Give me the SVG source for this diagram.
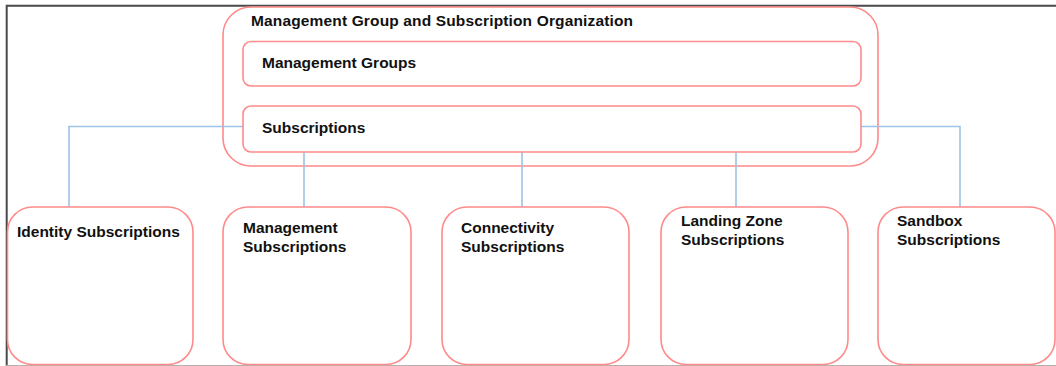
<svg xmlns="http://www.w3.org/2000/svg" width="1056" height="366" viewBox="0 0 1056 366">
<style>
.box{fill:#fff;stroke:#ff8a8a;stroke-width:1.6}
.lbl{font-family:"Liberation Sans",Arial,sans-serif;font-weight:bold;fill:#111}
.t15{font-size:15.5px}
.t16{font-size:15.5px}
.conn{fill:none;stroke:#9dc3e6;stroke-width:1.6}
</style>
<rect width="1056" height="366" fill="#fff"/>
<path d="M1058 5.7 H6.7 V366" fill="none" stroke="#4a4a4a" stroke-width="2"/>
<path d="M6 365.5 H1056" fill="none" stroke="#b8b0ac" stroke-width="1.2"/>
<g id="container">
<rect class="box" x="223" y="7" width="655" height="159" rx="28"/>
<text class="lbl t15" x="251" y="25.5" textLength="382" lengthAdjust="spacing">Management Group and Subscription Organization</text>
</g>
<g id="connectors">
<path class="conn" d="M243 126.5 H69 V207"/>
<path class="conn" d="M861 126.5 H960 V207"/>
<path class="conn" d="M304 152 V207"/>
<path class="conn" d="M522 152 V207"/>
<path class="conn" d="M736 152 V207"/>
</g>
<g id="mgmt-groups">
<rect class="box" x="243" y="41.5" width="618" height="44.5" rx="8"/>
<text class="lbl t15" x="262" y="68">Management Groups</text>
</g>
<g id="subscriptions">
<rect class="box" x="243" y="106" width="618" height="46" rx="8"/>
<text class="lbl t15" x="262" y="132.5">Subscriptions</text>
</g>
<g id="identity">
<rect class="box" x="7.5" y="207" width="185.5" height="157.5" rx="25"/>
<text class="lbl t16" x="17" y="236.5">Identity Subscriptions</text>
</g>
<g id="management">
<rect class="box" x="223" y="207" width="188" height="157.5" rx="25"/>
<text class="lbl t16" x="243" y="233">Management</text>
<text class="lbl t16" x="243" y="252">Subscriptions</text>
</g>
<g id="connectivity">
<rect class="box" x="442" y="207" width="187" height="157.5" rx="25"/>
<text class="lbl t16" x="461" y="233">Connectivity</text>
<text class="lbl t16" x="461" y="252">Subscriptions</text>
</g>
<g id="landing-zone">
<rect class="box" x="661" y="207" width="187" height="157.5" rx="25"/>
<text class="lbl t16" x="681" y="226">Landing Zone</text>
<text class="lbl t16" x="681" y="245">Subscriptions</text>
</g>
<g id="sandbox">
<rect class="box" x="878" y="207" width="177" height="157.5" rx="25"/>
<text class="lbl t16" x="897" y="226">Sandbox</text>
<text class="lbl t16" x="897" y="245">Subscriptions</text>
</g>
</svg>
